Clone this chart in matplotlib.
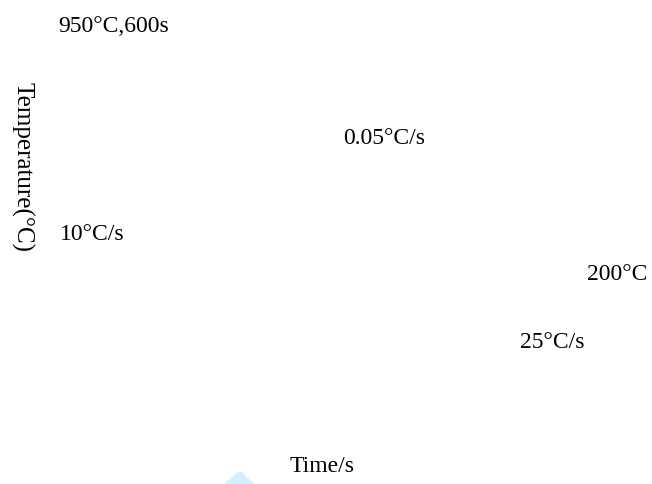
import matplotlib
matplotlib.use("Agg")
import matplotlib.pyplot as plt
from matplotlib.patches import Polygon

W, H = 652, 484
DPI = 100

# annotation texts
labels = ["950°C,600s", "0.05°C/s", "10°C/s", "200°C", "25°C/s"]
label_x = [58, 343, 60, 587, 520]
label_y = [26, 138, 234, 274, 342]

xlabel = "Time/s"
ylabel = "Temperature(°C)"

# partially visible light-blue shape at bottom
tri_x = [224, 238, 242, 254]
tri_y = [484, 472, 472, 484]

plt.rcParams['font.family'] = ['Liberation Serif', 'DejaVu Serif']

fig = plt.figure(figsize=(W / DPI, H / DPI), dpi=DPI)
ax = fig.add_axes([0, 0, 1, 1])
ax.set_xlim(0, W)
ax.set_ylim(H, 0)
ax.axis('off')

ax.add_patch(Polygon(list(zip(tri_x, tri_y)), closed=True,
                     facecolor='#d2effc', edgecolor='none'))

fs = 17
for t, x, y in zip(labels, label_x, label_y):
    ax.text(x, y, t, fontsize=fs, ha='left', va='center', color='black')

ax.text(290, 466, xlabel, fontsize=fs, ha='left', va='center', color='black')
ax.text(22, 167, ylabel, fontsize=18, ha='center', va='center',
        rotation=270, color='black')

fig.savefig("out.png", dpi=DPI)
